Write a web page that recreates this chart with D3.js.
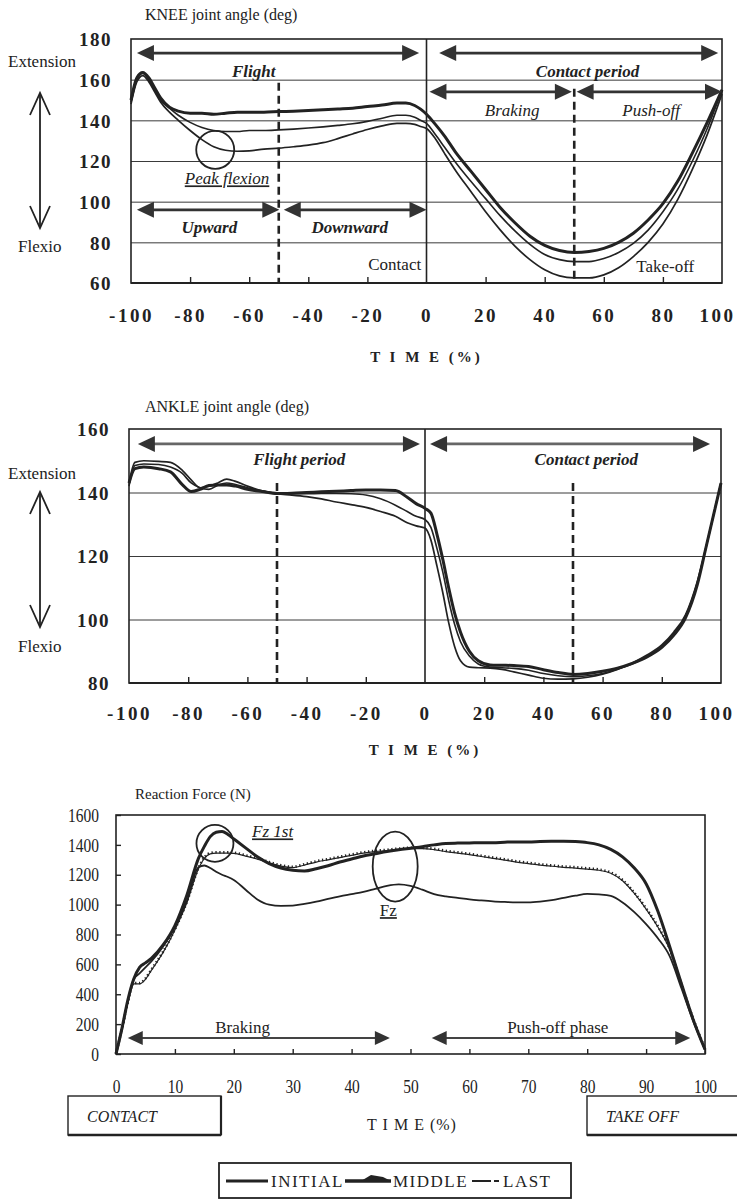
<!DOCTYPE html>
<html><head><meta charset="utf-8">
<script src="https://cdn.jsdelivr.net/npm/d3@7"></script>
<style>
body{margin:0;background:#fff;}
svg{display:block;font-family:"Liberation Serif","Times New Roman",serif;}
</style></head><body>
<svg id="fig" width="737" height="1200"></svg>
<script>
// ---------- data ----------
const seriesNames = ["INITIAL", "MIDDLE", "LAST"];

const kneeTime = [-100,-98,-96,-94,-92,-90,-87,-84,-80,-76,-72,-68,-64,-60,-55,-50,-45,-40,-35,-30,-25,-20,-15,-10,-7,-4,-2,0,3,6,10,15,20,25,30,35,40,45,50,55,60,65,70,75,80,85,90,95,100];
const kneeInitial = [148,159,162,159,154,149,144,140,135,130.5,127,125.3,124.8,125,125.8,126.3,127,127.8,129,131,133.3,135.5,137.3,138.5,138.5,138,137,136,131,124,115,105,95,86,78,71.5,66.5,63.5,62.5,62.5,64,67.5,73,80,89,101,116,133,153];
const kneeMiddle = [150,161,163.5,161,156,151,146.5,144.5,143.5,143.5,143,143.5,144,144,144,144.3,144.5,144.8,145.2,145.6,146,146.8,147.5,148.5,148.5,147.3,145.5,143,138,132.5,124,115,106,97,89.5,83,78.5,76,75,75.5,77,80,84.5,91,99,110,124,139,155];
const kneeLast = [149,160,163,160,155,150,146,142.5,139,136.5,135,134.5,134.5,135,135,135.3,135.7,136.2,136.8,137.5,138.3,139.5,141,142.5,142.5,141.5,140,138.5,133,127,119,110,101.5,93,85.5,79,74,71.5,70.5,70.5,72,75,79.5,86,95,106,120,136,155];

const ankleTime = [-100,-98,-95,-90,-86,-82,-79,-76,-73,-70,-67,-64,-60,-55,-50,-45,-40,-35,-30,-25,-20,-15,-10,-6,-3,0,2,4,6,8,10,12,15,18,22,26,30,35,40,45,50,55,60,65,70,75,80,84,88,92,95,98,100];
const ankleInitial = [143,149.5,150,149.8,149.5,147,144,141.5,142,143,144.2,143.5,142,140.5,139.6,139.2,138.7,138,137,136.2,135.3,134,132.5,130.5,129.5,128.8,125,117,108.5,99,91.5,87,85,84.8,84.7,84.3,83.5,82.5,81.5,81.2,81.3,81.8,82.8,84.3,86.3,88.8,92,96,101.5,112,123,135,143];
const ankleMiddle = [143,147.5,148,147.5,146.5,142.5,140.3,141,142.2,142.4,142.4,142,141,140.3,139.7,139.8,140,140.2,140.4,140.6,140.8,140.8,140.6,138.5,136.5,135,133.5,127,119,110,102,96,90,87,85.7,85.6,85.5,85.2,84.2,83.3,82.7,83,83.7,84.7,86.2,88.2,91.2,95,100.5,111,123,135,143];
const ankleLast = [142,148.5,149,148.8,148,146,143,141.5,141,142.3,143,142.5,141.5,140.5,139.8,139.6,139.6,139.7,139.7,139.6,139.2,138,136,134,132.5,131.5,129,122.5,115,106,98.5,93,88.5,86,85,84.8,84.6,84,83,82.3,82,82.3,83,84.3,86,88.3,91.5,95.5,101,111.5,123,135,143];

const forceTime = [0,1,2,3,4,5,6,8,10,12,14,15,16,17,18,19,20,22,24,26,28,30,32,34,36,38,40,42,44,46,48,50,52,54,56,58,60,62,64,66,68,70,72,74,76,78,80,82,84,86,88,90,92,94,96,98,100];
const forceInitial = [0,160,350,500,540,580,620,720,850,1020,1250,1262,1245,1220,1200,1185,1165,1100,1035,1000,992,993,1005,1020,1038,1055,1070,1085,1105,1125,1135,1125,1100,1070,1055,1045,1035,1028,1022,1018,1015,1015,1020,1030,1045,1060,1072,1068,1058,1015,950,870,775,655,440,220,30];
const forceMiddle = [0,170,360,500,580,610,640,730,860,1060,1310,1390,1455,1485,1490,1470,1440,1380,1320,1275,1245,1230,1225,1240,1260,1285,1305,1325,1340,1355,1368,1378,1388,1400,1410,1412,1413,1415,1415,1418,1420,1420,1422,1424,1425,1422,1415,1400,1370,1320,1245,1140,955,720,470,230,30];
const forceLast = [0,160,340,470,470,500,560,680,830,1010,1240,1310,1340,1345,1345,1345,1343,1325,1305,1280,1258,1248,1265,1285,1300,1315,1330,1345,1355,1362,1370,1375,1375,1368,1355,1345,1335,1322,1310,1298,1285,1275,1265,1257,1250,1245,1238,1230,1210,1160,1075,970,850,700,460,230,30];

const angleTicksX = [-100,-80,-60,-40,-20,0,20,40,60,80,100];
const kneeTicksY = [60,80,100,120,140,160,180];
const ankleTicksY = [80,100,120,140,160];
const forceTicksX = [0,10,20,30,40,50,60,70,80,90,100];
const forceTicksY = [0,200,400,600,800,1000,1200,1400,1600];

// ---------- helpers ----------
const INK = "#222", GRID = "#3a3a3a", ARROW = "#333";
const plain = d => String(d);   // hyphen minus, no thousands separator
const svg = d3.select("#fig");
svg.append("rect").attr("width", 737).attr("height", 1200).attr("fill", "#fff");

const pairs = (t, v) => t.map((tt, i) => [tt, v[i]]);

function headPath(tx, ty, dir, len, half) {
  const bx = tx - dir * len;
  return `M${tx},${ty}L${bx},${ty - half}L${bx},${ty + half}Z`;
}
function dblArrow(g, x1, x2, y, o) {
  g.append("line").attr("x1", x1 + o.len * 0.7).attr("x2", x2 - o.len * 0.7)
    .attr("y1", y).attr("y2", y).attr("stroke", o.line).attr("stroke-width", o.w);
  g.append("path").attr("d", headPath(x1, y, -1, o.len, o.half)).attr("fill", o.head);
  g.append("path").attr("d", headPath(x2, y, 1, o.len, o.half)).attr("fill", o.head);
}
function vArrow(g, x, y1, y2) {
  g.append("line").attr("x1", x).attr("x2", x).attr("y1", y1).attr("y2", y2)
    .attr("stroke", INK).attr("stroke-width", 1.8);
  g.append("path").attr("d", `M${x - 10},${y1 + 22}L${x},${y1}L${x + 10},${y1 + 22}`)
    .attr("fill", "none").attr("stroke", INK).attr("stroke-width", 1.8);
  g.append("path").attr("d", `M${x - 10},${y2 - 22}L${x},${y2}L${x + 10},${y2 - 22}`)
    .attr("fill", "none").attr("stroke", INK).attr("stroke-width", 1.8);
}
function text(g, str, x, y, o = {}) {
  return g.append("text").attr("x", x).attr("y", y).text(str)
    .attr("font-size", o.size || 16)
    .attr("font-weight", o.weight || "normal")
    .attr("font-style", o.style || "normal")
    .attr("text-anchor", o.anchor || "start")
    .attr("letter-spacing", o.ls || 0)
    .attr("fill", o.fill || INK)
    .style("text-decoration", o.underline ? "underline" : "none");
}
function styleAxisText(sel, o) {
  sel.selectAll("text").attr("font-family", null).attr("font-size", o.size)
    .attr("font-weight", o.weight || "normal").attr("letter-spacing", o.ls || 0)
    .attr("fill", INK);
  sel.attr("font-family", null).attr("font-size", null);
}

// line widths per series (thick MIDDLE, medium INITIAL, fine LAST)
const seriesStyle = {
  INITIAL: { w: 1.7 },
  MIDDLE: { w: 3.0 },
  LAST: { w: 1.6 }
};

// ---------- joint angle panel ----------
function anglePanel(cfg) {
  const g = svg.append("g");
  const x = d3.scaleLinear([-100, 100], [cfg.left, cfg.right]);
  const y = d3.scaleLinear(cfg.yDomain, [cfg.bottom, cfg.top]);
  const W = cfg.right - cfg.left;

  // gridlines
  const grid = g.append("g").attr("transform", `translate(${cfg.left},0)`)
    .call(d3.axisLeft(y).tickValues(cfg.gridVals).tickSize(-W).tickFormat(""));
  grid.select(".domain").remove();
  grid.selectAll("line").attr("stroke", GRID).attr("stroke-width", 1);

  // angle labels
  const yl = g.append("g").attr("transform", `translate(${cfg.left},0)`)
    .call(d3.axisLeft(y).tickValues(cfg.yTicks).tickSize(0).tickPadding(19).tickFormat(plain));
  yl.select(".domain").remove();
  styleAxisText(yl, { size: 19, weight: "bold", ls: 1.5 });
  yl.selectAll("text").attr("dy", "0.36em");

  // time labels
  const xl = g.append("g").attr("transform", `translate(0,${cfg.bottom})`)
    .call(d3.axisBottom(x).tickValues(angleTicksX).tickSize(0).tickFormat(plain));
  xl.select(".domain").remove();
  styleAxisText(xl, { size: 19, weight: "bold", ls: 2.5 });
  xl.selectAll("text").attr("dy", 0).attr("y", cfg.labelOffset)
    .attr("x", d => d === 100 ? -5 : 0);

  // inner ticks on the time axis
  const tk = g.append("g").attr("transform", `translate(0,${cfg.bottom})`)
    .call(d3.axisBottom(x).tickValues(angleTicksX.filter(v => v > -100 && v < 100 && v !== 0))
      .tickSize(-6).tickFormat(""));
  tk.select(".domain").remove();
  tk.selectAll("line").attr("stroke", INK).attr("stroke-width", 1.4);

  // frame
  g.append("rect").attr("x", cfg.left).attr("y", cfg.top).attr("width", W)
    .attr("height", cfg.bottom - cfg.top).attr("fill", "none").attr("stroke", INK).attr("stroke-width", 1.6);
  g.append("line").attr("x1", cfg.left).attr("x2", cfg.right).attr("y1", cfg.bottom).attr("y2", cfg.bottom)
    .attr("stroke", INK).attr("stroke-width", 2.2);
  // contact instant
  g.append("line").attr("x1", x(0)).attr("x2", x(0)).attr("y1", cfg.top).attr("y2", cfg.bottom)
    .attr("stroke", INK).attr("stroke-width", 1.6);
  // mid-phase dashed markers
  cfg.dashes.forEach(d => {
    g.append("line").attr("x1", x(d.t)).attr("x2", x(d.t)).attr("y1", y(d.from)).attr("y2", cfg.bottom)
      .attr("stroke", INK).attr("stroke-width", 2.6).attr("stroke-dasharray", "8,5");
  });

  // curves
  const line = d3.line().x(d => x(d[0])).y(d => y(d[1])).curve(d3.curveMonotoneX);
  ["INITIAL", "LAST", "MIDDLE"].forEach(name => {
    g.append("path").datum(pairs(cfg.time, cfg.series[name])).attr("d", line)
      .attr("fill", "none").attr("stroke", INK).attr("stroke-width", seriesStyle[name].w)
      .attr("stroke-linejoin", "round");
  });

  // title and side legend
  text(g, cfg.title, cfg.titleX, cfg.titleY, { size: 16 });
  text(g, "Extension", 8, cfg.extY, { size: 17 });
  text(g, "Flexio", 18, cfg.flexY, { size: 17 });
  vArrow(g, 40, cfg.arrowTop, cfg.arrowBottom);
  text(g, "T I M E (%)", x(0), cfg.bottom + cfg.timeOffset, { size: 15, weight: "bold", ls: 3, anchor: "middle" });

  return { g, x, y };
}

// knee
const knee = anglePanel({
  left: 131, right: 722, top: 39, bottom: 283, yDomain: [60, 180],
  gridVals: [80, 100, 120, 140, 160], yTicks: kneeTicksY,
  time: kneeTime, series: { INITIAL: kneeInitial, MIDDLE: kneeMiddle, LAST: kneeLast },
  dashes: [{ t: -50, from: 158.5 }, { t: 50, from: 155.5 }],
  labelOffset: 39, timeOffset: 79,
  title: "KNEE joint angle (deg)", titleX: 145, titleY: 20,
  extY: 67, flexY: 252, arrowTop: 93, arrowBottom: 228
});
{
  const { g, x, y } = knee;
  const big = { len: 17, half: 8, w: 2.8, line: ARROW, head: ARROW };
  dblArrow(g, x(-98), x(-2.5), y(173.1), big);
  dblArrow(g, x(4.3), x(98.7), y(173.1), big);
  dblArrow(g, x(1), x(49.2), y(154), big);
  dblArrow(g, x(50.8), x(100), y(154), big);
  dblArrow(g, x(-98), x(-49.8), y(96), big);
  dblArrow(g, x(-48.3), x(0), y(96), big);
  text(g, "Flight", x(-58.5), y(161.5), { size: 17, weight: "bold", style: "italic", anchor: "middle" });
  text(g, "Contact period", x(54.5), y(161.5), { size: 17, weight: "bold", style: "italic", anchor: "middle" });
  text(g, "Braking", x(29), y(142), { size: 17, style: "italic", anchor: "middle" });
  text(g, "Push-off", x(76), y(142), { size: 17, style: "italic", anchor: "middle" });
  text(g, "Upward", x(-73.5), y(84.5), { size: 17, weight: "bold", style: "italic", anchor: "middle" });
  text(g, "Downward", x(-26), y(84.5), { size: 17, weight: "bold", style: "italic", anchor: "middle" });
  text(g, "Peak flexion", x(-67.5), y(108.5), { size: 17, style: "italic", anchor: "middle", underline: true });
  g.append("circle").attr("cx", x(-71.5)).attr("cy", y(125.5)).attr("r", 19)
    .attr("fill", "none").attr("stroke", INK).attr("stroke-width", 1.8);
  text(g, "Contact", x(-1.8), y(66.5), { size: 17, anchor: "end" });
  text(g, "Take-off", x(71), y(65.5), { size: 17 });
}

// ankle
const ankle = anglePanel({
  left: 129, right: 721, top: 429, bottom: 683, yDomain: [80, 160],
  gridVals: [100, 120, 140], yTicks: ankleTicksY,
  time: ankleTime, series: { INITIAL: ankleInitial, MIDDLE: ankleMiddle, LAST: ankleLast },
  dashes: [{ t: -50, from: 143 }, { t: 50, from: 143 }],
  labelOffset: 37, timeOffset: 72,
  title: "ANKLE joint angle (deg)", titleX: 145, titleY: 412,
  extY: 479, flexY: 652, arrowTop: 492, arrowBottom: 627
});
{
  const { g, x, y } = ankle;
  const mid = { len: 17, half: 8, w: 2.6, line: "#666", head: ARROW };
  dblArrow(g, x(-97), x(-1.7), y(155.3), mid);
  dblArrow(g, x(1.7), x(96.3), y(155.3), mid);
  text(g, "Flight period", x(-42.5), y(148.6), { size: 17, weight: "bold", style: "italic", anchor: "middle" });
  text(g, "Contact period", x(54.5), y(148.6), { size: 17, weight: "bold", style: "italic", anchor: "middle" });
}

// ---------- reaction force panel ----------
{
  const L = 116, R = 705, T = 815, B = 1054;
  const g = svg.append("g");
  const x = d3.scaleLinear([0, 100], [L, R]);
  const y = d3.scaleLinear([0, 1600], [B, T]);

  const ya = g.append("g").attr("transform", `translate(${L},0)`)
    .call(d3.axisLeft(y).tickValues(forceTicksY).tickSize(-5).tickPadding(17).tickFormat(plain));
  ya.select(".domain").remove();
  ya.selectAll("line").attr("stroke", INK).attr("stroke-width", 1.4);
  styleAxisText(ya, { size: 18 });
  ya.selectAll("text").attr("dy", "0.34em").attr("transform", "scale(0.86,1)")
    .attr("x", -17 / 0.86);

  const xa = g.append("g").attr("transform", `translate(0,${B})`)
    .call(d3.axisBottom(x).tickValues(forceTicksX).tickSize(-5).tickFormat(plain));
  xa.select(".domain").remove();
  xa.selectAll("line").attr("stroke", INK).attr("stroke-width", 1.4);
  styleAxisText(xa, { size: 18 });
  xa.selectAll("text").attr("dy", 0).attr("y", 39).attr("transform", "scale(0.86,1)");

  g.append("rect").attr("x", L).attr("y", T).attr("width", R - L).attr("height", B - T)
    .attr("fill", "none").attr("stroke", INK).attr("stroke-width", 1.6);

  const line = d3.line().x(d => x(d[0])).y(d => y(d[1])).curve(d3.curveMonotoneX);
  g.append("path").datum(pairs(forceTime, forceInitial)).attr("d", line)
    .attr("fill", "none").attr("stroke", INK).attr("stroke-width", 1.8);
  g.append("path").datum(pairs(forceTime, forceLast)).attr("d", line)
    .attr("fill", "none").attr("stroke", INK).attr("stroke-width", 1.2);
  g.append("path").datum(pairs(forceTime, forceLast)).attr("d", line)
    .attr("fill", "none").attr("stroke", INK).attr("stroke-width", 2.6)
    .attr("stroke-dasharray", "1.3,2.6").attr("transform", "translate(0,-0.8)");
  g.append("path").datum(pairs(forceTime, forceMiddle)).attr("d", line)
    .attr("fill", "none").attr("stroke", INK).attr("stroke-width", 3)
    .attr("stroke-linejoin", "round");

  // phase arrows
  const arr = { len: 15, half: 7, w: 2, line: "#444", head: ARROW };
  dblArrow(g, x(2), x(46.5), y(107), arr);
  dblArrow(g, x(53.6), x(97.5), y(107), arr);
  text(g, "Braking", x(21.5), y(140), { size: 17, anchor: "middle" });
  text(g, "Push-off phase", x(75), y(140), { size: 17, anchor: "middle" });

  // highlighted peaks
  g.append("circle").attr("cx", x(16.8)).attr("cy", y(1410)).attr("r", 18.5)
    .attr("fill", "none").attr("stroke", INK).attr("stroke-width", 1.8);
  text(g, "Fz 1st", x(23.1), y(1450), { size: 17, style: "italic", underline: true });
  g.append("ellipse").attr("cx", x(47.4)).attr("cy", y(1255)).attr("rx", 22.5).attr("ry", 35)
    .attr("fill", "none").attr("stroke", INK).attr("stroke-width", 1.8);
  text(g, "Fz", x(44.8), y(923), { size: 17, underline: true });

  text(g, "Reaction Force (N)", 135, 799, { size: 15 });
  text(g, "T I M E (%)", 412, 1130, { size: 16, ls: 1, anchor: "middle" });

  // event boxes
  const box = (bx, by, bw, bh, label, tx) => {
    g.append("rect").attr("x", bx).attr("y", by).attr("width", bw).attr("height", bh)
      .attr("fill", "#fff").attr("stroke", INK).attr("stroke-width", 1.4);
    g.append("line").attr("x1", bx).attr("x2", bx + bw).attr("y1", by + bh).attr("y2", by + bh)
      .attr("stroke", INK).attr("stroke-width", 2.6);
    g.append("line").attr("x1", bx + bw).attr("x2", bx + bw).attr("y1", by).attr("y2", by + bh)
      .attr("stroke", INK).attr("stroke-width", 2.2);
    text(g, label, tx, by + 26, { size: 16, style: "italic" });
  };
  box(68, 1096, 153, 39, "CONTACT", 87);
  box(587, 1096, 170, 39, "TAKE OFF", 606);
}

// ---------- legend ----------
{
  const g = svg.append("g");
  g.append("rect").attr("x", 219).attr("y", 1163).attr("width", 352).attr("height", 35)
    .attr("fill", "#fff").attr("stroke", INK).attr("stroke-width", 1.8);
  const ly = 1181;
  const items = [
    { name: seriesNames[0], x0: 226, x1: 268, tx: 271 },
    { name: seriesNames[1], x0: 345, x1: 391, tx: 393 },
    { name: seriesNames[2], x0: 472, x1: 499, tx: 503 }
  ];
  // INITIAL sample
  g.append("line").attr("x1", items[0].x0).attr("x2", items[0].x1).attr("y1", ly).attr("y2", ly)
    .attr("stroke", INK).attr("stroke-width", 3);
  // MIDDLE sample: heavy stroke with a raised wedge
  g.append("line").attr("x1", items[1].x0).attr("x2", items[1].x1).attr("y1", ly).attr("y2", ly)
    .attr("stroke", INK).attr("stroke-width", 3.6);
  g.append("path").attr("d", `M${items[1].x0 + 16},${ly}L${items[1].x0 + 26},${ly - 6}L${items[1].x0 + 38},${ly - 4}L${items[1].x1},${ly}Z`)
    .attr("fill", INK);
  // LAST sample: line with short dash
  g.append("line").attr("x1", items[2].x0).attr("x2", items[2].x0 + 19).attr("y1", ly).attr("y2", ly)
    .attr("stroke", INK).attr("stroke-width", 2);
  g.append("line").attr("x1", items[2].x0 + 22).attr("x2", items[2].x1).attr("y1", ly).attr("y2", ly)
    .attr("stroke", INK).attr("stroke-width", 2);
  items.forEach(it => {
    text(g, it.name, it.tx, ly + 6, { size: 17, ls: 1.5 });
  });
}
</script></body></html>
